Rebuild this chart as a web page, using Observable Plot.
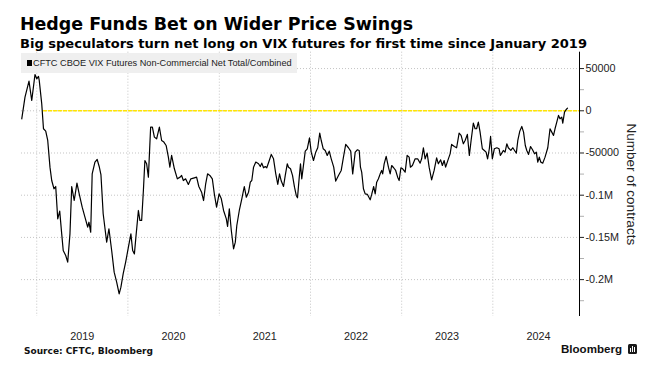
<!DOCTYPE html>
<html><head><meta charset="utf-8">
<script src="https://cdn.jsdelivr.net/npm/d3@7"></script>
<script src="https://cdn.jsdelivr.net/npm/@observablehq/plot@0.6"></script>
<style>
html,body{margin:0;padding:0;background:#fff;}
#wrap{position:relative;width:672px;height:370px;overflow:hidden;background:#fff;}
#wrap svg{position:absolute;left:0;top:0;}
.t{position:absolute;white-space:nowrap;line-height:1;color:#000;transform-origin:0 0;z-index:2;}
#title{left:20px;top:13.6px;font:bold 17.4px "DejaVu Sans";}
#subtitle{left:20px;top:36.5px;font:bold 12px "DejaVu Sans";}
#source{left:24px;top:345.7px;font:bold 9px "DejaVu Sans";color:#111;}
#brand{left:560.7px;top:341.7px;font:bold 11.6px "Liberation Sans";color:#111;}
#legend{position:absolute;left:21px;top:53.3px;width:275.7px;height:19.4px;background:rgba(238,238,238,0.92);z-index:2;}
#swatch{position:absolute;left:26.7px;top:60px;width:5.7px;height:5.7px;background:#000;z-index:3;}
#legtext{left:33.3px;top:58.1px;font:9.3px "Liberation Sans";color:#222;z-index:3;}
#logo{position:absolute;left:628px;top:344px;width:8.7px;height:10px;background:#1a1a1a;border-radius:1.5px;z-index:2;}
#logo i{position:absolute;bottom:2px;width:1.2px;background:#fff;}
</style></head>
<body>
<div id="wrap">
  <div class="t" id="title">Hedge Funds Bet on Wider Price Swings</div>
  <div class="t" id="subtitle">Big speculators turn net long on VIX futures for first time since January 2019</div>
  <div id="legend"></div>
  <div id="swatch"></div>
  <div class="t" id="legtext">CFTC CBOE VIX Futures Non-Commercial Net Total/Combined</div>
  <div class="t" id="source">Source: CFTC, Bloomberg</div>
  <div class="t" id="brand">Bloomberg</div>
  <div id="logo"><i style="left:2px;height:4px"></i><i style="left:3.8px;height:6px"></i><i style="left:5.6px;height:5px"></i></div>
</div>
<script>
const seriesName = "CFTC CBOE VIX Futures Non-Commercial Net Total/Combined";
const dates = [
"2018-11-02","2018-11-15","2018-12-01","2018-12-12","2018-12-25","2019-01-01","2019-01-08","2019-01-11","2019-01-21","2019-01-28",
"2019-02-06","2019-02-14","2019-02-23","2019-03-02","2019-03-11","2019-03-18","2019-03-26","2019-04-03","2019-04-11","2019-04-17",
"2019-04-27","2019-05-05","2019-05-14","2019-05-21","2019-05-31","2019-06-11","2019-06-20","2019-07-02","2019-07-13","2019-07-24",
"2019-07-29","2019-08-05","2019-08-11","2019-08-22","2019-08-31","2019-09-08","2019-09-15","2019-09-24","2019-10-08","2019-10-17",
"2019-10-28","2019-11-07","2019-11-17","2019-11-27","2019-12-04","2019-12-13","2019-12-23","2020-01-03","2020-01-13","2020-01-20",
"2020-01-27","2020-02-02","2020-02-12","2020-02-18","2020-02-25","2020-03-03","2020-03-09","2020-03-16","2020-03-23","2020-04-01",
"2020-04-08","2020-04-16","2020-04-25","2020-05-06","2020-05-15","2020-05-24","2020-06-02","2020-06-11","2020-06-17","2020-06-24",
"2020-07-05","2020-07-17","2020-07-28","2020-08-03","2020-08-10","2020-08-19","2020-08-30","2020-09-09","2020-09-23","2020-10-02",
"2020-10-11","2020-10-22","2020-10-30","2020-11-07","2020-11-15","2020-11-24","2020-12-04","2020-12-12","2020-12-21","2020-12-31",
"2021-01-09","2021-01-18","2021-01-29","2021-02-03","2021-02-10","2021-02-18","2021-02-27","2021-03-06","2021-03-12","2021-03-22",
"2021-04-01","2021-04-11","2021-04-19","2021-04-28","2021-05-05","2021-05-11","2021-05-18","2021-05-27","2021-06-07","2021-06-14",
"2021-06-20","2021-06-27","2021-07-04","2021-07-10","2021-07-20","2021-07-28","2021-08-06","2021-08-15","2021-08-23","2021-08-30",
"2021-09-06","2021-09-15","2021-09-22","2021-09-30","2021-10-05","2021-10-13","2021-10-21","2021-10-29","2021-11-05","2021-11-10",
"2021-11-17","2021-11-22","2021-11-27","2021-12-03","2021-12-11","2021-12-19","2021-12-28","2022-01-04","2022-01-13","2022-01-22",
"2022-01-30","2022-02-07","2022-02-13","2022-02-21","2022-03-01","2022-03-09","2022-03-17","2022-03-25","2022-04-04","2022-04-12",
"2022-04-23","2022-05-04","2022-05-13","2022-05-22","2022-06-02","2022-06-11","2022-06-19","2022-06-29","2022-07-08","2022-07-15",
"2022-07-20","2022-07-25","2022-08-01","2022-08-08","2022-08-17","2022-08-28","2022-09-03","2022-09-11","2022-09-17","2022-09-23",
"2022-09-30","2022-10-07","2022-10-13","2022-10-17","2022-10-23","2022-10-31","2022-11-09","2022-11-16","2022-11-22","2022-11-30",
"2022-12-08","2022-12-16","2022-12-22","2022-12-29","2023-01-05","2023-01-15","2023-01-23","2023-01-31","2023-02-05","2023-02-13",
"2023-02-24","2023-03-06","2023-03-16","2023-03-22","2023-03-29","2023-04-05","2023-04-13","2023-04-21","2023-05-01","2023-05-11",
"2023-05-21","2023-05-28","2023-06-06","2023-06-13","2023-06-20","2023-06-26","2023-07-07","2023-07-14","2023-07-20","2023-07-31",
"2023-08-09","2023-08-19","2023-08-27","2023-09-05","2023-09-12","2023-09-21","2023-09-29","2023-10-06","2023-10-15","2023-10-22",
"2023-10-28","2023-11-04","2023-11-11","2023-11-20","2023-11-28","2023-12-05","2023-12-11","2023-12-18","2023-12-23","2023-12-30",
"2024-01-07","2024-01-17","2024-01-26","2024-01-31","2024-02-06","2024-02-12","2024-02-19","2024-02-26","2024-03-03","2024-03-13",
"2024-03-21","2024-03-28","2024-04-04","2024-04-10","2024-04-18","2024-04-26","2024-05-03","2024-05-10","2024-05-16","2024-05-23",
"2024-05-31","2024-06-08","2024-06-16","2024-06-23","2024-06-29","2024-07-05","2024-07-11","2024-07-19","2024-07-28","2024-08-08",
"2024-08-17","2024-08-24","2024-08-31","2024-09-06","2024-09-13","2024-09-20","2024-09-26","2024-10-03","2024-10-07","2024-10-14",
"2024-10-20","2024-10-26"
];
const values = [
-9500,16200,35200,12200,43000,37900,40700,36000,8300,-21300,
-24100,-35200,-66800,-82600,-92400,-89700,-128000,-118900,-145800,-165500,
-171400,-179300,-145800,-89700,-106300,-85700,-98400,-114200,-126000,-137900,
-132000,-143800,-74700,-60800,-57700,-66000,-75500,-122000,-155600,-139800,
-165500,-191200,-203000,-216900,-209000,-193200,-179300,-161600,-145800,-165500,
-169500,-149700,-118100,-129900,-129900,-94400,-58900,-62800,-78600,-19400,
-19400,-31200,-33200,-19400,-35200,-37100,-41100,-54900,-66800,-52900,
-68700,-80600,-78600,-76600,-82600,-80600,-87300,-80600,-79400,-78600,
-89700,-96400,-106300,-87300,-74700,-76600,-80600,-98400,-114200,-98400,
-104300,-118100,-128000,-137100,-116100,-141800,-163500,-155600,-135900,-118100,
-104300,-89700,-102300,-96400,-84600,-82600,-66800,-60800,-62800,-66000,
-62000,-67500,-66000,-67500,-58900,-51700,-56900,-74700,-87300,-74700,
-83300,-89700,-76600,-62800,-66800,-68700,-76600,-90500,-100300,-103100,
-78600,-62800,-80600,-66800,-47800,-45000,-32000,-49000,-58900,-49000,
-43800,-26500,-35200,-45000,-47000,-52900,-47800,-56900,-66800,-83300,
-76600,-70700,-54900,-39900,-43800,-47800,-74700,-49000,-46200,-47000,
-66800,-72700,-92400,-98400,-99100,-105500,-99100,-89700,-98400,-84600,
-80600,-74700,-70700,-74700,-62800,-54100,-66800,-74700,-64800,-67500,
-70700,-78600,-82600,-67500,-68700,-72700,-52900,-54900,-66800,-64800,
-56900,-56900,-62000,-56900,-43800,-56900,-50200,-66800,-81800,-70700,
-55700,-62800,-58100,-64800,-58900,-66800,-56900,-51000,-39900,-42300,
-43800,-26500,-29200,-39100,-35200,-28000,-52900,-35200,-14600,-21300,
-21300,-13400,-25300,-45000,-47000,-49000,-56900,-45000,-30400,-56900,
-45000,-43800,-45000,-52900,-50200,-47000,-49000,-39100,-43800,-47000,
-43800,-47000,-50200,-35200,-24100,-18600,-25300,-41100,-47000,-51700,
-42300,-46200,-51000,-49000,-60800,-54900,-60800,-62000,-54900,-43800,
-21300,-25300,-29200,-21300,-13400,-5500,-9500,-7500,-14600,-1600,
1200,3200
];
const xDomain = ["2018-11-01","2024-12-13"];
const yDomain = [-243700, 69400];
const yTicks = [50000, 0, -50000, -100000, -150000, -200000];
const yTickLabels = ["50000","0","-50000","-0.1M","-0.15M","-0.2M"];
const yMinorTicks = [25000, -25000, -75000, -125000, -175000, -225000];
const yearGridDates = ["2019-01-01","2020-01-01","2021-01-01","2022-01-01","2023-01-01","2024-01-01"];
const xLabelDates = ["2019-07-02","2020-07-02","2021-07-02","2022-07-02","2023-07-02","2024-07-02"];
const xTickLabels = ["2019","2020","2021","2022","2023","2024"];
const zeroLineDates = ["2019-01-28","2024-12-13"];
const zeroLineValues = [0, 0];
const yLabel = "Number of contracts";

const rows = dates.map((d, i) => ({date: new Date(d), value: values[i]}));
const zeroRows = zeroLineDates.map((d, i) => ({date: new Date(d), value: zeroLineValues[i]}));
const xd = xDomain.map(d => new Date(d));

const chart = Plot.plot({
  width: 672, height: 370,
  marginTop: 51.7, marginBottom: 54, marginLeft: 21, marginRight: 93,
  x: {type: "utc", domain: xd},
  y: {domain: yDomain},
  style: {fontFamily: "Liberation Sans", fontSize: "10.8px", color: "#222", background: "transparent"},
  marks: [
    Plot.ruleY(yTicks, {stroke: "#c4c4c4", strokeDasharray: "1,2"}),
    Plot.ruleX(yearGridDates.map(d => new Date(d)), {stroke: "#c4c4c4", strokeDasharray: "1,2"}),
    Plot.line(zeroRows, {x: "date", y: "value", stroke: "#ffe400", strokeWidth: 1.5, strokeDasharray: "3,2"}),
    Plot.line(rows, {x: "date", y: "value", stroke: "#000", strokeWidth: 1.2}),
    Plot.ruleX([xd[1]], {stroke: "#000", strokeWidth: 1}),
    Plot.axisY({anchor: "right", ticks: yMinorTicks, tickSize: 4, tickFormat: () => "", stroke: "#b0b0b0", label: null}),
    Plot.axisY({anchor: "right", ticks: yTicks, tickSize: 4, tickPadding: 2, tickFormat: d => yTickLabels[yTicks.indexOf(d)], label: null, fill: "#222"}),
    Plot.axisX({anchor: "bottom", ticks: xLabelDates.map(d => new Date(d)), tickSize: 0, tickPadding: 16, tickFormat: d => xTickLabels[xLabelDates.indexOf(d.toISOString().slice(0,10))], label: null, fill: "#222"}),
    Plot.text([yLabel], {frameAnchor: "right", textAnchor: "middle", lineAnchor: "middle", rotate: 90, dx: 51.5, fontSize: 13.5, fill: "#222"})
  ]
});
document.getElementById("wrap").prepend(chart);

function fit(id, w) {
  const el = document.getElementById(id);
  const r = el.getBoundingClientRect().width;
  if (r > 0) el.style.transform = `scaleX(${w / r})`;
}
fit("title", 393);
fit("subtitle", 567);
fit("source", 129);
fit("brand", 61);
fit("legtext", 258.7);
</script>
</body></html>
